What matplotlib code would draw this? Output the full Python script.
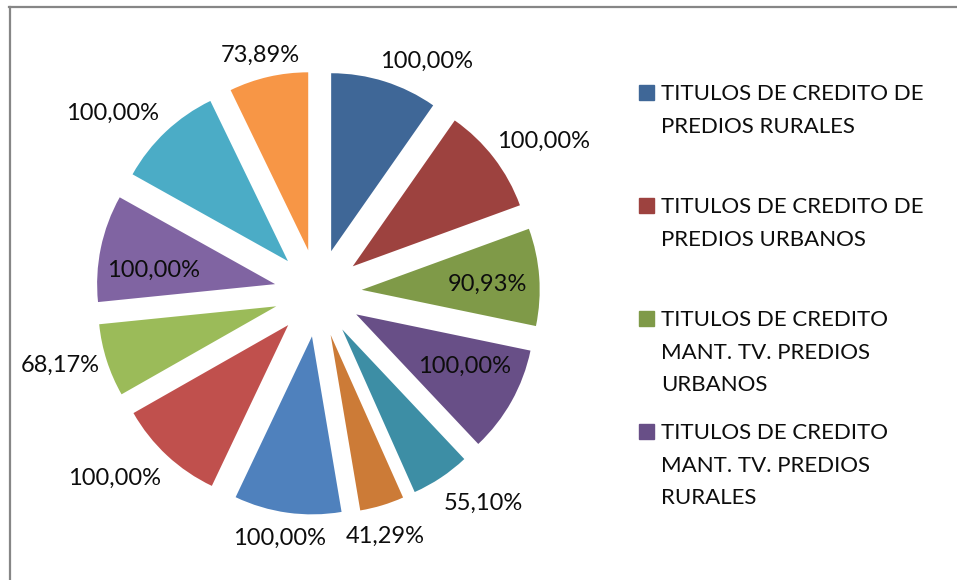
import numpy as np
import matplotlib
matplotlib.use("Agg")
import matplotlib.pyplot as plt
from matplotlib.patches import Rectangle
from matplotlib.lines import Line2D

plt.rcParams['font.family'] = ['Lato', 'DejaVu Sans']

# datos de la torta (porcentajes de recaudo por concepto)
valores = [100.00, 100.00, 90.93, 100.00, 55.10, 41.29,
           100.00, 100.00, 68.17, 100.00, 100.00, 73.89]
colores = ['#3F6797', '#9D423F', '#7F9A48', '#684F87', '#3D8EA5', '#CC7B37',
           '#4F81BD', '#C0504D', '#9BBB59', '#8064A2', '#4BACC6', '#F79646']
leyenda = ['TITULOS DE CREDITO DE\nPREDIOS RURALES',
           'TITULOS DE CREDITO DE\nPREDIOS URBANOS',
           'TITULOS DE CREDITO\nMANT. TV. PREDIOS\nURBANOS',
           'TITULOS DE CREDITO\nMANT. TV. PREDIOS\nRURALES']

# ubicacion de etiquetas: distancia (en radios) y corrimiento angular (grados, horario)
dist_etiq = [1.438, 1.524, 0.954, 0.923, 1.50, 1.420, 1.397, 1.545, 1.507, 0.930, 1.532, 1.372]
giro_etiq = [7.5, 3.6, 1.1, -2.7, -4.5, 1.3, 0.9, 4.8, 2.0, -4.0, -5.5, -0.8]

W, H = 957, 580
fig = plt.figure(figsize=(W / 100, H / 100), dpi=100)

# borde del area del grafico
fig.add_artist(Line2D([9 / W, 1], [1 - 7 / H, 1 - 7 / H], color='#868686', lw=1.6))
fig.add_artist(Line2D([9.5 / W, 9.5 / W], [0, 1 - 7 / H], color='#868686', lw=1.6))

exp = 0.246
cx, cy, R = 318, 293, 178  # centro y radio en pixeles
ext = R * (1 + exp)
ax = fig.add_axes([(cx - ext) / W, (H - cy - ext) / H, 2 * ext / W, 2 * ext / H])
wedges, _ = ax.pie(valores, colors=colores, startangle=90, counterclock=False,
                   explode=[exp] * len(valores), radius=1.0)
ax.set_xlim(-1 - exp, 1 + exp)
ax.set_ylim(-1 - exp, 1 + exp)
ax.set_aspect('equal')
ax.axis('off')

for w, v, d, g in zip(wedges, valores, dist_etiq, giro_etiq):
    ang = np.deg2rad((w.theta1 + w.theta2) / 2 - g)
    txt = f"{v:.2f}%".replace('.', ',')
    ax.text(d * np.cos(ang), d * np.sin(ang), txt, ha='center', va='center',
            fontsize=17, color='#0d0d0d')

# leyenda (solo se muestran las 4 primeras entradas)
y0, paso, interl = 100, 113, 32.7
for i, lab in enumerate(leyenda):
    yb = y0 + i * paso
    fig.patches.append(Rectangle((639 / W, 1 - yb / H), 15 / W, 15 / H,
                                 transform=fig.transFigure, color=colores[i]))
    for k, linea in enumerate(lab.split('\n')):
        fig.text(661 / W, 1 - (yb + k * interl) / H, linea, fontsize=16,
                 va='baseline', ha='left', color='#0d0d0d')

fig.savefig('out.png', dpi=100)
